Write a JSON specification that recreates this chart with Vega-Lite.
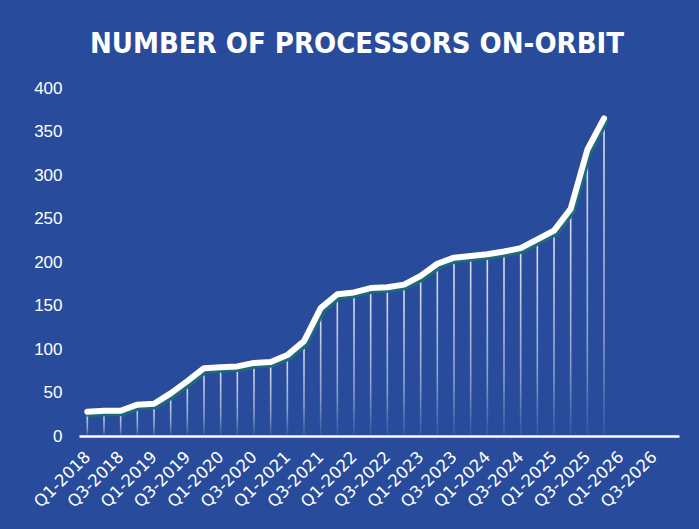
{
  "$schema": "https://vega.github.io/schema/vega-lite/v6.json",
  "autosize": {"type": "none"},
  "width": 600,
  "height": 348,
  "padding": {"left": 79, "top": 88, "right": 20, "bottom": 93},
  "background": "#284c9b",
  "config": {"view": {"stroke": null}},
  "title": {
    "text": "NUMBER OF PROCESSORS ON-ORBIT",
    "color": "white",
    "font": "'DejaVu Sans Condensed', 'Roboto Condensed', Roboto",
    "fontWeight": "bold",
    "fontSize": 29,
    "anchor": "middle",
    "dx": -22,
    "offset": 20
  },
  "data": {
    "values": [
      {"quarter": "Q1-2018", "processors": 28},
      {"quarter": "Q2-2018", "processors": 29},
      {"quarter": "Q3-2018", "processors": 29},
      {"quarter": "Q4-2018", "processors": 36},
      {"quarter": "Q1-2019", "processors": 37},
      {"quarter": "Q2-2019", "processors": 49},
      {"quarter": "Q3-2019", "processors": 63},
      {"quarter": "Q4-2019", "processors": 78},
      {"quarter": "Q1-2020", "processors": 79},
      {"quarter": "Q2-2020", "processors": 80},
      {"quarter": "Q3-2020", "processors": 84},
      {"quarter": "Q4-2020", "processors": 85},
      {"quarter": "Q1-2021", "processors": 93},
      {"quarter": "Q2-2021", "processors": 109},
      {"quarter": "Q3-2021", "processors": 147},
      {"quarter": "Q4-2021", "processors": 163},
      {"quarter": "Q1-2022", "processors": 165},
      {"quarter": "Q2-2022", "processors": 170},
      {"quarter": "Q3-2022", "processors": 171},
      {"quarter": "Q4-2022", "processors": 174},
      {"quarter": "Q1-2023", "processors": 184},
      {"quarter": "Q2-2023", "processors": 198},
      {"quarter": "Q3-2023", "processors": 205},
      {"quarter": "Q4-2023", "processors": 207},
      {"quarter": "Q1-2024", "processors": 209},
      {"quarter": "Q2-2024", "processors": 212},
      {"quarter": "Q3-2024", "processors": 216},
      {"quarter": "Q4-2024", "processors": 226},
      {"quarter": "Q1-2025", "processors": 236},
      {"quarter": "Q2-2025", "processors": 261},
      {"quarter": "Q3-2025", "processors": 329},
      {"quarter": "Q4-2025", "processors": 365}
    ]
  },
  "encoding": {
    "x": {
      "field": "quarter",
      "type": "ordinal",
      "sort": null,
      "scale": {
        "type": "point",
        "padding": 0.5,
        "domain": ["Q1-2018","Q2-2018","Q3-2018","Q4-2018","Q1-2019","Q2-2019","Q3-2019","Q4-2019","Q1-2020","Q2-2020","Q3-2020","Q4-2020","Q1-2021","Q2-2021","Q3-2021","Q4-2021","Q1-2022","Q2-2022","Q3-2022","Q4-2022","Q1-2023","Q2-2023","Q3-2023","Q4-2023","Q1-2024","Q2-2024","Q3-2024","Q4-2024","Q1-2025","Q2-2025","Q3-2025","Q4-2025","Q1-2026","Q2-2026","Q3-2026","Q4-2026"]
      },
      "axis": {
        "title": null,
        "values": ["Q1-2018","Q3-2018","Q1-2019","Q3-2019","Q1-2020","Q3-2020","Q1-2021","Q3-2021","Q1-2022","Q3-2022","Q1-2023","Q3-2023","Q1-2024","Q3-2024","Q1-2025","Q3-2025","Q1-2026","Q3-2026"],
        "labelAngle": -45,
        "labelAlign": "right",
        "labelBaseline": "middle",
        "labelColor": "white",
        "labelFont": "DejaVu Sans",
        "labelFontSize": 16.5,
        "labelPadding": 18,
        "labelOverlap": false,
        "ticks": false,
        "domainColor": "white",
        "domainWidth": 2.5,
        "grid": false,
        "zindex": 1
      }
    }
  },
  "layer": [
    {
      "mark": {
        "type": "bar",
        "size": 1.6,
        "color": {
          "gradient": "linear",
          "x1": 0, "y1": 0, "x2": 0, "y2": 1,
          "stops": [
            {"offset": 0, "color": "rgba(255,255,255,0.85)"},
            {"offset": 0.7, "color": "rgba(255,255,255,0.45)"},
            {"offset": 1, "color": "rgba(255,255,255,0.05)"}
          ]
        }
      },
      "encoding": {
        "y": {
          "field": "processors",
          "type": "quantitative",
          "scale": {"domain": [0, 400], "nice": false},
          "axis": {
            "title": null,
            "values": [0, 50, 100, 150, 200, 250, 300, 350, 400],
            "labelColor": "white",
            "labelFont": "Liberation Sans",
            "labelFontSize": 17,
            "labelPadding": 17,
            "ticks": false,
            "domain": false,
            "grid": false
          }
        }
      }
    },
    {
      "mark": {"type": "line", "color": "#1e6a7b", "strokeWidth": 6, "strokeCap": "round", "strokeJoin": "round", "xOffset": 2, "yOffset": 2.5},
      "encoding": {"y": {"field": "processors", "type": "quantitative"}}
    },
    {
      "mark": {"type": "line", "color": "white", "strokeWidth": 6, "strokeCap": "round", "strokeJoin": "round"},
      "encoding": {"y": {"field": "processors", "type": "quantitative"}}
    }
  ]
}
